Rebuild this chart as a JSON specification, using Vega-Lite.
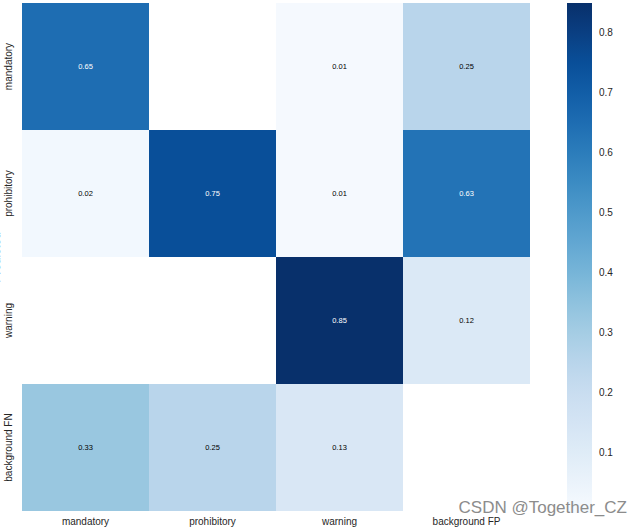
{
  "$schema": "https://vega.github.io/schema/vega-lite/v6.json",
  "autosize": "none",
  "width": 508,
  "height": 508,
  "padding": {"left": 22, "top": 3, "right": 108, "bottom": 16},
  "background": "white",
  "config": {
    "view": {"stroke": null},
    "font": "Liberation Sans"
  },
  "title": {
    "text": "CSDN @Together_CZ",
    "orient": "bottom",
    "anchor": "end",
    "frame": "group",
    "fontSize": 17,
    "fontWeight": "normal",
    "color": "#8c8c8c",
    "font": "Liberation Sans",
    "dx": 97,
    "dy": -49
  },
  "data": {
    "values": [
      {"pred": "mandatory", "true": "mandatory", "v": 0.65},
      {"pred": "mandatory", "true": "warning", "v": 0.01},
      {"pred": "mandatory", "true": "background FP", "v": 0.25},
      {"pred": "prohibitory", "true": "mandatory", "v": 0.02},
      {"pred": "prohibitory", "true": "prohibitory", "v": 0.75},
      {"pred": "prohibitory", "true": "warning", "v": 0.01},
      {"pred": "prohibitory", "true": "background FP", "v": 0.63},
      {"pred": "warning", "true": "warning", "v": 0.85},
      {"pred": "warning", "true": "background FP", "v": 0.12},
      {"pred": "background FN", "true": "mandatory", "v": 0.33},
      {"pred": "background FN", "true": "prohibitory", "v": 0.25},
      {"pred": "background FN", "true": "warning", "v": 0.13}
    ]
  },
  "encoding": {
    "x": {
      "field": "true",
      "type": "nominal",
      "sort": ["mandatory", "prohibitory", "warning", "background FP"],
      "scale": {"domain": ["mandatory", "prohibitory", "warning", "background FP"], "paddingInner": 0, "paddingOuter": 0},
      "axis": {
        "title": "True",
        "titleFontSize": 12,
        "titleFontWeight": "normal",
        "titleColor": "#262626",
        "titlePadding": 8,
        "labelAngle": 0,
        "labelFontSize": 10,
        "labelColor": "#262626",
        "labelPadding": 5,
        "ticks": false,
        "domain": false,
        "grid": false
      }
    },
    "y": {
      "field": "pred",
      "type": "nominal",
      "scale": {"domain": ["mandatory", "prohibitory", "warning", "background FN"], "paddingInner": 0, "paddingOuter": 0},
      "axis": {
        "title": "Predicted",
        "titleFontSize": 12,
        "titleFontWeight": "normal",
        "titleColor": "#262626",
        "titleAngle": 270,
        "titleAlign": "center",
        "titleBaseline": "alphabetic",
        "titleX": -23,
        "titleY": 254,
        "labelAngle": 270,
        "labelAlign": "center",
        "labelBaseline": "alphabetic",
        "labelFontSize": 10,
        "labelColor": "#262626",
        "labelPadding": 11,
        "ticks": false,
        "domain": false,
        "grid": false
      }
    }
  },
  "layer": [
    {
      "mark": {"type": "rect"},
      "encoding": {
        "color": {
          "field": "v",
          "type": "quantitative",
          "scale": {
            "type": "linear",
            "domain": [0, 0.10625, 0.2125, 0.31875, 0.425, 0.53125, 0.6375, 0.74375, 0.85],
            "range": ["#f7fbff", "#deebf7", "#c6dbef", "#9ecae1", "#6baed6", "#4292c6", "#2171b5", "#08519c", "#08306b"],
            "clamp": true
          },
          "legend": {
            "title": null,
            "orient": "none",
            "legendX": 545,
            "legendY": 0,
            "direction": "vertical",
            "gradientLength": 510,
            "gradientThickness": 25,
            "gradientStrokeWidth": 0,
            "values": [0.1, 0.2, 0.3, 0.4, 0.5, 0.6, 0.7, 0.8],
            "format": ".1f",
            "labelFontSize": 10,
            "labelColor": "#262626",
            "labelOffset": 7,
            "labelOverlap": false
          }
        }
      }
    },
    {
      "mark": {"type": "text", "fontSize": 7.5, "font": "Liberation Sans"},
      "encoding": {
        "text": {"field": "v", "type": "quantitative", "format": ".2f"},
        "color": {
          "condition": {"test": "datum.v > 0.45", "value": "#ffffff"},
          "value": "#000000"
        }
      }
    }
  ]
}
